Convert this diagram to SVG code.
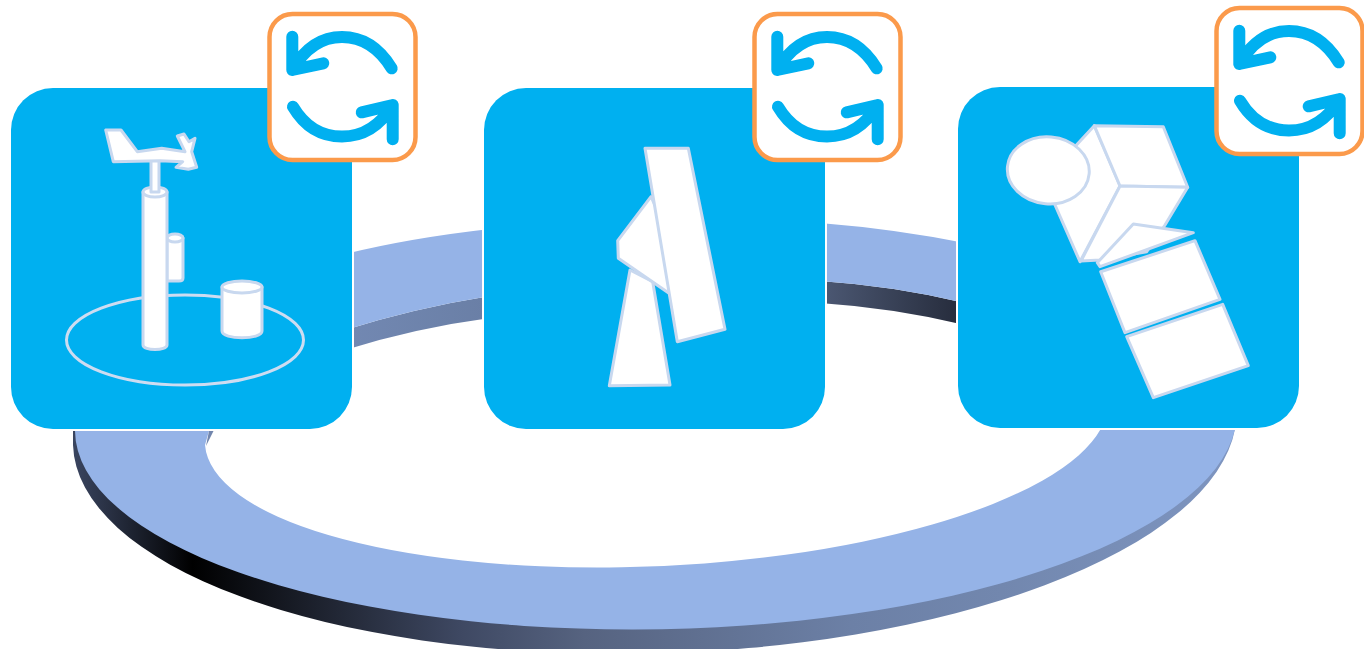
<svg xmlns="http://www.w3.org/2000/svg" xmlns:xlink="http://www.w3.org/1999/xlink" width="1364" height="649" viewBox="0 0 1364 649">
<style>
.tile{fill:#00B0F0;stroke:#fff;stroke-width:4;paint-order:stroke}
.face{fill:#95B3E7}
.ic{fill:#fff;stroke:#C8D8EF;stroke-width:3;stroke-linejoin:round}
.ln{fill:none;stroke:#CDDCF1;stroke-width:3}
.frame{fill:#fff;stroke:#FB9A4B;stroke-width:4.5}
.arr{fill:none;stroke:#00B0F0;stroke-width:12;stroke-linecap:round;stroke-linejoin:round}
</style>
<defs>
<linearGradient id="wallFront" gradientUnits="userSpaceOnUse" x1="73" y1="0" x2="1234" y2="0">
<stop offset="0" stop-color="#3a4560"/><stop offset="0.103" stop-color="#000"/><stop offset="0.333" stop-color="#3e4862"/><stop offset="0.44" stop-color="#566380"/><stop offset="0.67" stop-color="#6c80a6"/><stop offset="0.8" stop-color="#7287ae"/><stop offset="1" stop-color="#7e95c0"/>
</linearGradient>
<linearGradient id="wallBack" gradientUnits="userSpaceOnUse" x1="350" y1="0" x2="960" y2="0">
<stop offset="0" stop-color="#7288b2"/><stop offset="0.22" stop-color="#6a7fa6"/><stop offset="0.78" stop-color="#4b5772"/><stop offset="1" stop-color="#262c3c"/>
</linearGradient>
<g id="refresh">
<rect class="frame" x="269.500" y="14" width="146" height="146" rx="23"/>
<path class="arr" d="M391.700,68.300C378,46 361,37 342,37C322,37 305,48 292.300,70M292.300,36.700V70L323.300,63.300"/>
<path class="arr" d="M293,106.700C305,127 322,136.500 342,136.500C363,136.500 380,126 392.700,105M361.700,112.300L392.700,105V139.300"/>
</g>
</defs>
<g id="ring">
<path fill="url(#wallFront)" d="M73,431V445A582 226 -1.700 0 0 1235,429Z"/>
<path fill="#fff" stroke="#fff" stroke-width="3" d="M205,445A452 144 -2.700 0 0 1100.700,429L209,429Z"/>
<path class="face" d="M75,431A581 208 -1 0 0 1235,429L1100.700,429A452 144 -2.700 0 1 205,445L209,431Z"/>
<path fill="#7286ad" d="M209,431L213.500,431L206,446Z"/>
<path fill="url(#wallBack)" d="M345,330Q415,308 490,296L490,318Q415,328 345,350Z"/>
<path class="face" d="M345,254Q410,238 490,229L490,296Q415,308 345,330Z"/>
<path fill="url(#wallBack)" d="M820,281Q895,286 965,303L965,325Q895,308 820,303Z"/>
<path class="face" d="M820,223Q895,229 965,243L965,303Q895,286 820,281Z"/>
</g>
<g id="node-station">
<rect class="tile" x="11" y="88" width="341" height="341" rx="42"/>
<ellipse class="ln" cx="185" cy="340" rx="118.500" ry="45"/>
<path class="ic" d="M222,287V331C222,340 262,340 262,331V287Z"/>
<ellipse class="ic" cx="242" cy="287" rx="20" ry="6"/>
<path class="ic" d="M167,238V281H179C182,281 183,280 183,278V238Z"/>
<ellipse class="ic" cx="175" cy="238" rx="8" ry="4"/>
<path class="ic" d="M143,192V345C143,351 167,351 167,345V192Z"/>
<ellipse class="ic" cx="155" cy="192" rx="12" ry="5"/>
<rect class="ic" x="151" y="160" width="8" height="32"/>
<path class="ic" d="M105.700,130L121,130L137.300,151.700L161.700,148.300L185,151.700L177.300,136L184,134L189,141.700L195,138.300L191.700,151.700L196.700,167.300L188.300,169.300L176,167.300L182.700,161.700L160,160.700L113.300,161.700Z"/>
<use xlink:href="#refresh" href="#refresh"/>
</g>
<g id="node-radar">
<rect class="tile" x="484" y="88" width="341" height="341" rx="42"/>
<polygon class="ic" points="630,270 609.300,385.700 670,385 652.700,281.700"/>
<polygon class="ic" points="651,196.700 617.700,240.700 618.300,258.300 668.300,292.700 680,260"/>
<polygon class="ic" points="645,148.300 688.300,148.300 725,329.300 677.300,341.700"/>
<use xlink:href="#refresh" href="#refresh" x="485"/>
</g>
<g id="node-satellite">
<rect class="tile" x="958" y="87" width="341" height="341" rx="42"/>
<polygon class="ic" points="1094.300,125.700 1120,186 1080,261.700 1044,180"/>
<polygon class="ic" points="1094.300,125.700 1163.300,126.700 1187.700,187.300 1120,186"/>
<polygon class="ic" points="1120,186 1187.700,187.300 1165,225 1146.700,251.700 1100,260 1081,261"/>
<ellipse class="ic" cx="1048.300" cy="170.300" rx="41" ry="33.500" transform="rotate(5 1048.300 170.300)"/>
<polygon class="ic" points="1133.300,224 1193.300,232.700 1100,266.700 1097.300,262.700"/>
<polygon class="ic" points="1100.700,271.700 1195,240.700 1220,299.300 1125,332.700"/>
<polygon class="ic" points="1126.700,336.700 1222.700,304.300 1248.300,365.700 1153.300,397.700"/>
<use xlink:href="#refresh" href="#refresh" x="947" y="-6"/>
</g>
</svg>
